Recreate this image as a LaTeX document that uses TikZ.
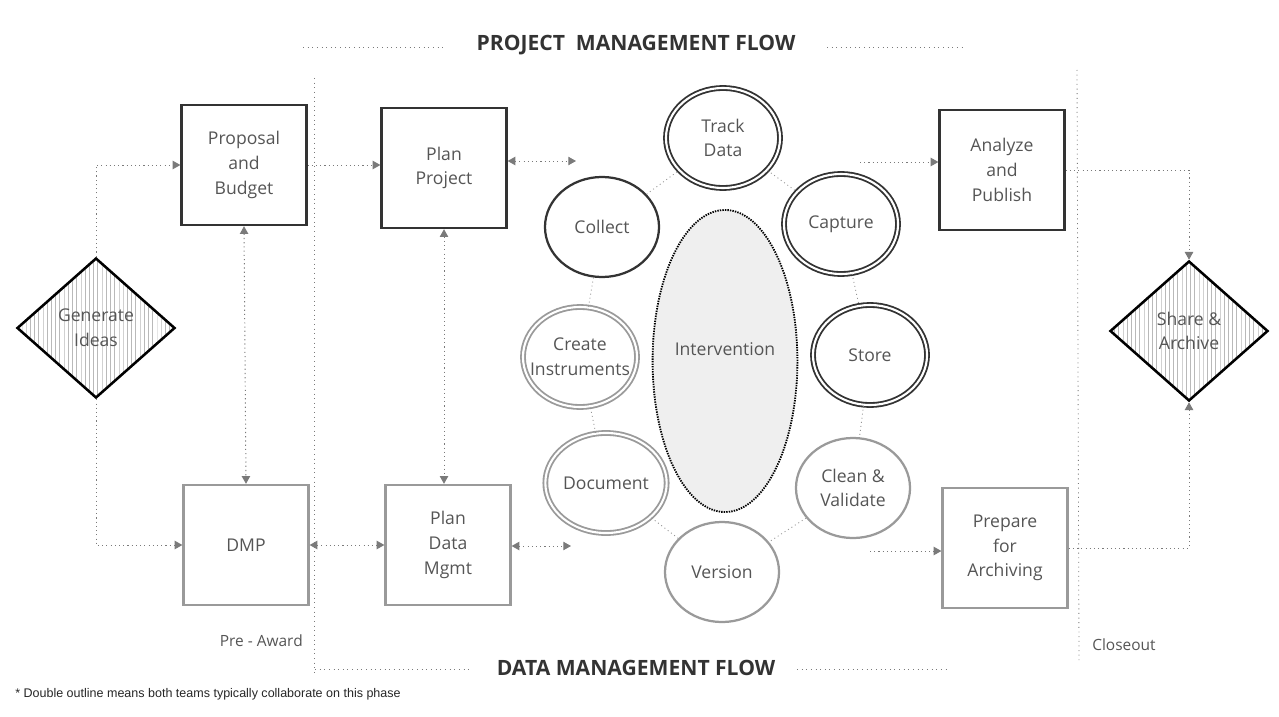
\documentclass[tikz,border=0pt]{standalone}
\usepackage{fontspec}
\setmainfont{Open Sans}
\newfontfamily\notefont{Liberation Sans}
\usetikzlibrary{arrows.meta,shapes.geometric,patterns,positioning}

\definecolor{inkdark}{HTML}{333333}
\definecolor{inkgray}{HTML}{9A9A9A}
\definecolor{txtgray}{HTML}{555555}
\definecolor{dotgray}{HTML}{7A7A7A}
\definecolor{ovalfill}{HTML}{EFEFEF}

\begin{document}
\begin{tikzpicture}[
  x=0.025cm, y=-0.025cm,
  every node/.style={font=\fontsize{12.5}{17.5}\selectfont, text=txtgray, align=center, inner sep=0pt},
  phasebox/.style={rectangle, draw=inkdark, line width=1.7pt, minimum width=3.12cm, minimum height=3cm},
  grayphase/.style={phasebox, draw=inkgray},
  decision/.style={diamond, draw=black, line width=1.8pt, minimum width=3.95cm, minimum height=3.5cm,
    pattern=vertical lines, pattern color=gray!55},
  ring/.style={ellipse, draw=inkdark, line width=1.6pt, minimum width=2.85cm, minimum height=2.5cm},
  grayring/.style={ring, draw=inkgray},
  shared/.style={double=white, double distance=1.5pt, line width=1.3pt},
  link/.style={draw=dotgray!80, line width=0.6pt, dash pattern=on 0.7pt off 2.2pt},
  guide/.style={draw=dotgray, line width=0.6pt, dash pattern=on 0.7pt off 2.6pt},
  flow/.style={draw=dotgray, line width=0.7pt, dash pattern=on 0.8pt off 2.2pt,
    -{Triangle[length=5.5pt,width=6pt]}},
  twoway/.style={flow, {Triangle[length=5.5pt,width=6pt]}-{Triangle[length=5.5pt,width=6pt]}},
  heading/.style={font=\fontsize{15}{18}\selectfont\bfseries, text=inkdark},
  phase/.style={font=\fontsize{11}{14}\selectfont}
]
\useasboundingbox (0,0) rectangle (1279,716);

% headings and phase borders
\node[heading] (pm-title) at (636,45) {PROJECT\ \ MANAGEMENT FLOW};
\node[heading] (dm-title) at (636,668) {DATA MANAGEMENT FLOW};
\draw[guide] (303,47) -- (445,47);
\draw[guide] (827,47) -- (963,47);
\draw[guide] (315,669) -- (470,669);
\draw[guide] (797,669) -- (950,669);
\draw[guide] (314,78) -- (314,672);
\draw[guide] (1077,70) -- (1079,660);
\node[phase, anchor=east] (pre-award) at (303,641) {Pre - Award};
\node[phase, anchor=west] (closeout) at (1092,645) {Closeout};

% project and data management boxes
\node[decision] (ideas) at (96,328) {Generate\\Ideas};
\node[phasebox] (proposal) at (244,165) {Proposal\\and\\Budget};
\node[grayphase] (dmp) at (246,545) {DMP};
\node[phasebox] (plan) at (444,168) {Plan\\Project};
\node[grayphase] (plandm) at (448,545) {Plan\\Data\\Mgmt};
\node[phasebox] (analyze) at (1002,170) {Analyze\\and\\Publish};
\node[grayphase] (prepare) at (1005,548) {Prepare\\for\\Archiving};
\node[decision] (share) at (1189,331) {Share \&\\Archive};

% research cycle
\node[ellipse, draw=black, line width=1.3pt, dash pattern=on 1pt off 0.8pt, fill=ovalfill,
  minimum width=3.62cm, minimum height=7.55cm] (intervention) at (725,361) {Intervention\\\mbox{}};
\node[ring, shared] (track) at (723,138) {Track\\Data};
\node[ring] (collect) at (602,227) {Collect};
\node[ring, shared] (capture) at (841,224) {Capture};
\node[grayring, shared] (instruments) at (580,357) {Create\\\makebox[1.5cm]{Instruments}};
\node[ring, shared] (store) at (870,355) {Store};
\node[grayring, shared] (document) at (606,483) {Document};
\node[grayring] (clean) at (853,488) {Clean \&\\Validate};
\node[grayring] (version) at (722,572) {Version};

\draw[link] (collect) -- (track);
\draw[link] (track) -- (capture);
\draw[link] (capture) -- (store);
\draw[link] (store) -- (clean);
\draw[link] (clean) -- (version);
\draw[link] (version) -- (document);
\draw[link] (document) -- (instruments);
\draw[link] (instruments) -- (collect);

% connectors
\coordinate (plan-out) at (576,161);
\coordinate (plandm-out) at (571,546);
\coordinate (analyze-in) at (860,162);
\coordinate (prepare-in) at (870,551);

\draw[flow] (ideas.north) |- (proposal.west);
\draw[flow] (ideas.south) |- (dmp.west);
\draw[twoway] (proposal.south) -- (dmp.north);
\draw[flow] (proposal.east) -- (proposal.east -| plan.west);
\draw[twoway] (plan.south) -- (plan.south |- plandm.north);
\draw[twoway] (dmp.east) -- (plandm.west);
\draw[twoway] (plan.east |- plan-out) -- (plan-out);
\draw[twoway] (plandm.east |- plandm-out) -- (plandm-out);
\draw[flow] (analyze-in) -- (analyze-in -| analyze.west);
\draw[flow] (prepare-in) -- (prepare-in -| prepare.west);
\draw[flow] (analyze.east) -| (share.north);
\draw[flow] (prepare.east) -| (share.south);

\node[anchor=west, font=\notefont\fontsize{8.9}{11}\selectfont, text=black!85] (note) at (15,694)
  {* Double outline means both teams typically collaborate on this phase};
\end{tikzpicture}
\end{document}
